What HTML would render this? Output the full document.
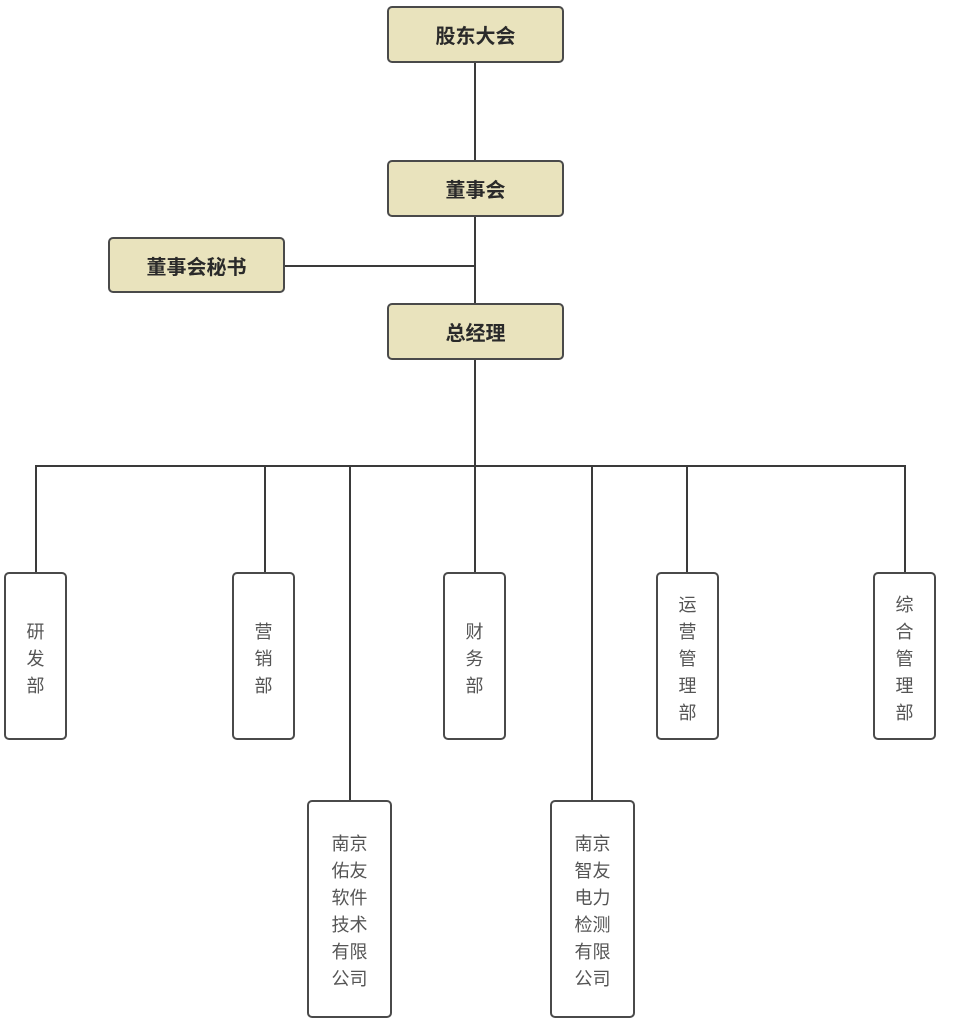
<!DOCTYPE html>
<html><head><meta charset="utf-8"><style>
body{margin:0;width:953px;height:1024px;background:#fff;position:relative;overflow:hidden;font-family:"Liberation Sans","Noto Sans CJK SC",sans-serif}
.b{position:absolute;box-sizing:border-box;border:2.5px solid #4a4a4a;border-radius:5px;display:flex;align-items:center;justify-content:center;text-align:center}
.t{background:#e9e3bd;font-size:20px;color:#2a2a2a;font-weight:bold}
.v{background:#fff;font-size:18px;color:#555;line-height:27px;padding-top:6px}
.l{position:absolute;background:#3a3a3a}
</style></head><body>
<div class="l" style="left:474px;top:60px;width:2px;height:406px"></div>
<div class="l" style="left:284px;top:265px;width:191px;height:2px"></div>
<div class="l" style="left:35px;top:465px;width:871px;height:2px"></div>
<div class="l" style="left:35px;top:465px;width:2px;height:108px"></div>
<div class="l" style="left:264px;top:465px;width:2px;height:108px"></div>
<div class="l" style="left:474px;top:465px;width:2px;height:108px"></div>
<div class="l" style="left:686px;top:465px;width:2px;height:108px"></div>
<div class="l" style="left:904px;top:465px;width:2px;height:108px"></div>
<div class="l" style="left:349px;top:465px;width:2px;height:336px"></div>
<div class="l" style="left:591px;top:465px;width:2px;height:336px"></div>

<div class="b t" style="left:387px;top:6px;width:177px;height:57px">股东大会</div>
<div class="b t" style="left:387px;top:160px;width:177px;height:57px">董事会</div>
<div class="b t" style="left:108px;top:237px;width:177px;height:56px">董事会秘书</div>
<div class="b t" style="left:387px;top:303px;width:177px;height:57px">总经理</div>

<div class="b v" style="left:4px;top:572px;width:63px;height:168px">研<br>发<br>部</div>
<div class="b v" style="left:232px;top:572px;width:63px;height:168px">营<br>销<br>部</div>
<div class="b v" style="left:443px;top:572px;width:63px;height:168px">财<br>务<br>部</div>
<div class="b v" style="left:656px;top:572px;width:63px;height:168px">运<br>营<br>管<br>理<br>部</div>
<div class="b v" style="left:873px;top:572px;width:63px;height:168px">综<br>合<br>管<br>理<br>部</div>
<div class="b v" style="left:307px;top:800px;width:85px;height:218px">南京<br>佑友<br>软件<br>技术<br>有限<br>公司</div>
<div class="b v" style="left:550px;top:800px;width:85px;height:218px">南京<br>智友<br>电力<br>检测<br>有限<br>公司</div>
</body></html>
